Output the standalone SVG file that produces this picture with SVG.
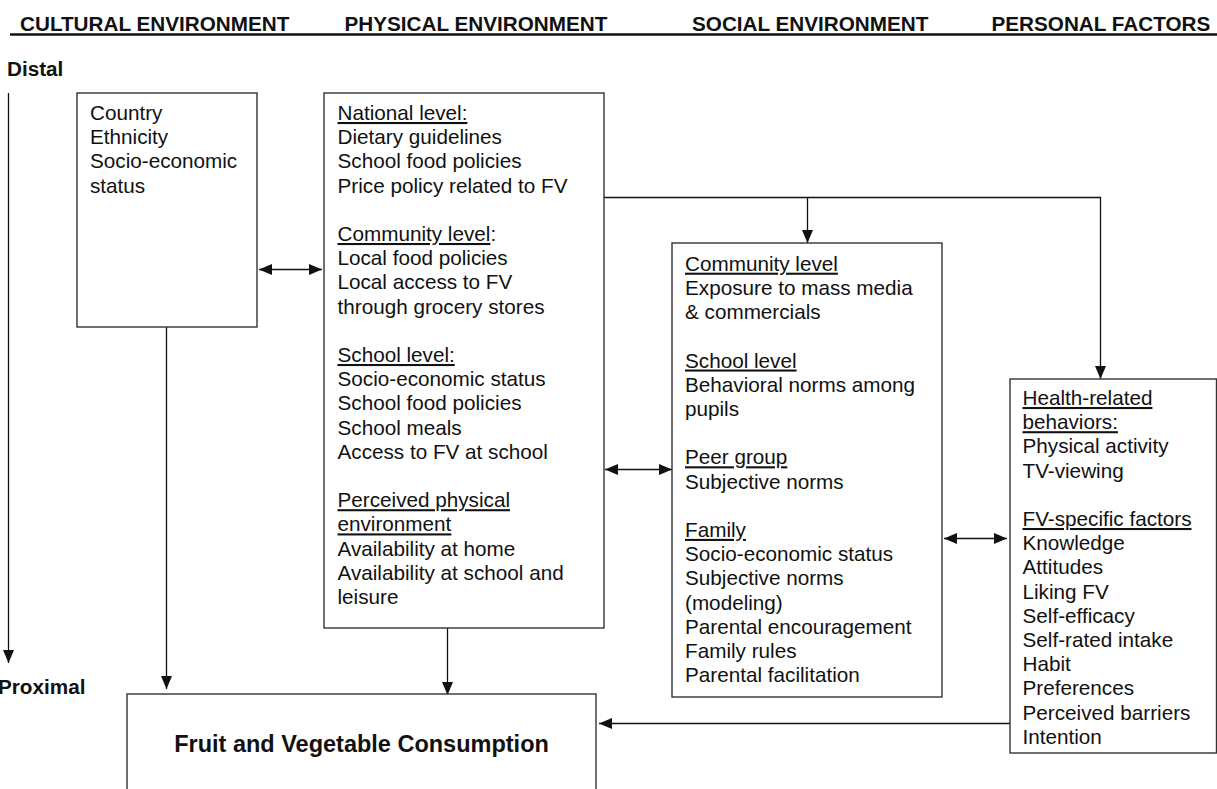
<svg xmlns="http://www.w3.org/2000/svg" width="1217" height="789" viewBox="0 0 1217 789">
<style>
.t{font-family:"Liberation Sans",Arial,sans-serif;font-size:20.7px;fill:#111}
.b{font-family:"Liberation Sans",Arial,sans-serif;font-weight:bold;font-size:20.7px;fill:#111}
.box{fill:#fff;stroke:#333;stroke-width:1.4}
.c{fill:none;stroke:#111;stroke-width:1.3}
.u{text-decoration:underline}
</style>
<defs>
<marker id="ah" markerUnits="userSpaceOnUse" markerWidth="14" markerHeight="12" refX="13" refY="5.5" orient="auto-start-reverse">
<path d="M0,0 L13,5.5 L0,11 z" fill="#111"/>
</marker>
</defs>
<rect width="1217" height="789" fill="#fff"/>
<g id="header">
<text class="b" x="20" y="30.7">CULTURAL ENVIRONMENT</text>
<text class="b" x="344.5" y="30.7">PHYSICAL ENVIRONMENT</text>
<text class="b" x="692" y="30.7">SOCIAL ENVIRONMENT</text>
<text class="b" x="991.5" y="30.7">PERSONAL FACTORS</text>
<line x1="10" y1="34.5" x2="1217" y2="34.5" stroke="#111" stroke-width="2.6"/>
</g>
<g id="axis">
<text class="b" x="7" y="76">Distal</text>
<text class="b" x="-2" y="694">Proximal</text>
</g>
<g id="connectors">
<line class="c" x1="8.5" y1="93" x2="8.5" y2="663" marker-end="url(#ah)"/>
<line class="c" x1="259" y1="269.5" x2="322" y2="269.5" marker-start="url(#ah)" marker-end="url(#ah)"/>
<line class="c" x1="605" y1="469.5" x2="672" y2="469.5" marker-start="url(#ah)" marker-end="url(#ah)"/>
<line class="c" x1="944" y1="538.5" x2="1007" y2="538.5" marker-start="url(#ah)" marker-end="url(#ah)"/>
<polyline class="c" points="604,197.5 1100.5,197.5 1100.5,379" marker-end="url(#ah)"/>
<line class="c" x1="807.5" y1="197.5" x2="807.5" y2="243" marker-end="url(#ah)"/>
<line class="c" x1="166.5" y1="327" x2="166.5" y2="689" marker-end="url(#ah)"/>
<line class="c" x1="447.5" y1="628" x2="447.5" y2="695" marker-end="url(#ah)"/>
<line class="c" x1="1010" y1="723.5" x2="599" y2="723.5" marker-end="url(#ah)"/>
</g>
<g id="cultural">
<rect class="box" x="77" y="93" width="180" height="234"/>
<text class="t" x="90" y="120">
<tspan x="90">Country</tspan>
<tspan x="90" dy="24.2">Ethnicity</tspan>
<tspan x="90" dy="24.2">Socio-economic</tspan>
<tspan x="90" dy="24.2">status</tspan>
</text>
</g>
<g id="physical">
<rect class="box" x="324" y="93" width="280" height="535"/>
<text class="t" x="337.5" y="120">
<tspan x="337.5" class="u">National level:</tspan>
<tspan x="337.5" dy="24.2">Dietary guidelines</tspan>
<tspan x="337.5" dy="24.2">School food policies</tspan>
<tspan x="337.5" dy="24.2">Price policy related to FV</tspan>
<tspan x="337.5" dy="48.4"><tspan class="u">Community level</tspan>:</tspan>
<tspan x="337.5" dy="24.2">Local food policies</tspan>
<tspan x="337.5" dy="24.2">Local access to FV</tspan>
<tspan x="337.5" dy="24.2">through grocery stores</tspan>
<tspan x="337.5" dy="48.4" class="u">School level:</tspan>
<tspan x="337.5" dy="24.2">Socio-economic status</tspan>
<tspan x="337.5" dy="24.2">School food policies</tspan>
<tspan x="337.5" dy="24.2">School meals</tspan>
<tspan x="337.5" dy="24.2">Access to FV at school</tspan>
<tspan x="337.5" dy="48.4" class="u">Perceived physical</tspan>
<tspan x="337.5" dy="24.2" class="u">environment</tspan>
<tspan x="337.5" dy="24.2">Availability at home</tspan>
<tspan x="337.5" dy="24.2">Availability at school and</tspan>
<tspan x="337.5" dy="24.2">leisure</tspan>
</text>
</g>
<g id="social">
<rect class="box" x="672" y="243" width="270" height="454"/>
<text class="t" x="685" y="270.7">
<tspan x="685" class="u">Community level</tspan>
<tspan x="685" dy="24.2">Exposure to mass media</tspan>
<tspan x="685" dy="24.2">&amp; commercials</tspan>
<tspan x="685" dy="48.4" class="u">School level</tspan>
<tspan x="685" dy="24.2">Behavioral norms among</tspan>
<tspan x="685" dy="24.2">pupils</tspan>
<tspan x="685" dy="48.4" class="u">Peer group</tspan>
<tspan x="685" dy="24.2">Subjective norms</tspan>
<tspan x="685" dy="48.4" class="u">Family</tspan>
<tspan x="685" dy="24.2">Socio-economic status</tspan>
<tspan x="685" dy="24.2">Subjective norms</tspan>
<tspan x="685" dy="24.2">(modeling)</tspan>
<tspan x="685" dy="24.2">Parental encouragement</tspan>
<tspan x="685" dy="24.2">Family rules</tspan>
<tspan x="685" dy="24.2">Parental facilitation</tspan>
</text>
</g>
<g id="personal">
<rect class="box" x="1010" y="379" width="206.5" height="374"/>
<text class="t" x="1022.5" y="405">
<tspan x="1022.5" class="u">Health-related</tspan>
<tspan x="1022.5" dy="24.2" class="u">behaviors:</tspan>
<tspan x="1022.5" dy="24.2">Physical activity</tspan>
<tspan x="1022.5" dy="24.2">TV-viewing</tspan>
<tspan x="1022.5" dy="48.4" class="u">FV-specific factors</tspan>
<tspan x="1022.5" dy="24.2">Knowledge</tspan>
<tspan x="1022.5" dy="24.2">Attitudes</tspan>
<tspan x="1022.5" dy="24.2">Liking FV</tspan>
<tspan x="1022.5" dy="24.2">Self-efficacy</tspan>
<tspan x="1022.5" dy="24.2">Self-rated intake</tspan>
<tspan x="1022.5" dy="24.2">Habit</tspan>
<tspan x="1022.5" dy="24.2">Preferences</tspan>
<tspan x="1022.5" dy="24.2">Perceived barriers</tspan>
<tspan x="1022.5" dy="24.2">Intention</tspan>
</text>
</g>
<g id="outcome">
<rect class="box" x="127" y="694" width="469" height="110"/>
<text class="b" x="361.5" y="752" text-anchor="middle" style="font-size:23.5px">Fruit and Vegetable Consumption</text>
</g>
</svg>
